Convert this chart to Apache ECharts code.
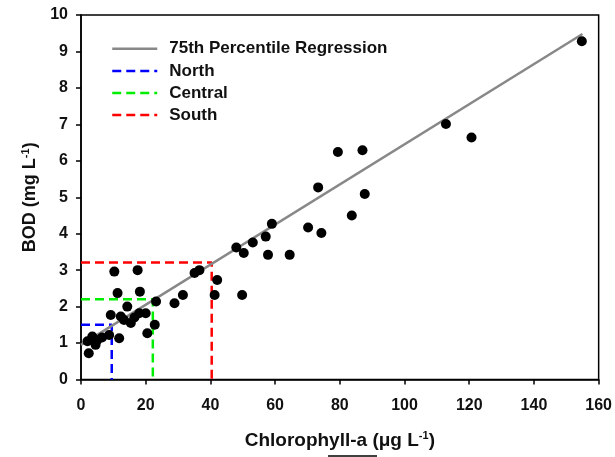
<!DOCTYPE html>
<html>
<head>
<meta charset="utf-8">
<script src="https://cdn.jsdelivr.net/npm/echarts@6/dist/echarts.min.js"></script>
<style>html,body{margin:0;padding:0;background:#fff}#c{width:615px;height:457px}</style>
</head>
<body>
<div id="c"></div>
<script>
// Observations: [Chlorophyll-a, BOD]
var obsChl = [2.4,2.0,3.5,5.0,4.5,6.5,8.7,9.2,10.3,11.3,11.8,12.3,13.3,14.3,15.4,16.5,17.5,18.2,18.0,20.0,20.5,22.8,23.2,28.9,31.5,35.1,36.6,41.3,42.1,48.0,50.3,49.8,53.1,57.1,57.8,59.0,64.5,70.2,73.3,74.3,79.4,83.7,87.0,87.7,112.8,120.7,154.8];
var obsBod = [0.72,1.05,1.18,1.08,0.95,1.15,1.22,1.77,2.96,2.37,1.13,1.73,1.63,2.0,1.55,1.7,3.0,2.41,1.82,1.82,1.27,1.50,2.14,2.09,2.32,2.92,3.0,2.32,2.73,3.62,3.47,2.32,3.76,3.92,3.42,4.27,3.42,4.17,5.27,4.02,6.24,4.50,6.29,5.09,7.01,6.64,9.28];
// 75th percentile regression endpoints
var regX = [0, 155];
var regY = [0.95, 9.48];
// Regional thresholds [chl, bod]
var regionNames = ['North', 'Central', 'South'];
var regionChl = [9.5, 22.2, 40.4];
var regionBod = [1.5, 2.2, 3.21];
var regionColors = ['#0000ff', '#00ee00', '#ff0000'];
var xTicks = [0, 160, 20];
var yTicks = [0, 10, 1];

var scatterData = obsChl.map(function(x, i){ return [x, obsBod[i]]; });
var regData = regX.map(function(x, i){ return [x, regY[i]]; });

var font = '"Liberation Sans", Arial, sans-serif';
var series = [
  {name: '75th Percentile Regression', type: 'line', data: regData, symbol: 'none',
   lineStyle: {color: '#888888', width: 2.5}, itemStyle: {color: '#888888'}, z: 3}
];
regionNames.forEach(function(n, i){
  series.push({name: n, type: 'line', symbol: 'none',
    data: [[0, regionBod[i]], [regionChl[i], regionBod[i]], [regionChl[i], 0]],
    lineStyle: {color: regionColors[i], width: 2.5, type: [9, 5]},
    itemStyle: {color: regionColors[i]}, z: 2});
});
series.push({name: 'obs', type: 'scatter', data: scatterData, symbolSize: 10,
  itemStyle: {color: '#000', opacity: 1}, z: 4});

var supStyle = {fontFamily: font, fontWeight: 'bold', fontSize: 11, color: '#111', verticalAlign: 'top', padding: [0,0,9,0]};

var chart = echarts.init(document.getElementById('c'), null, {renderer: 'canvas'});
chart.setOption({
  animation: false,
  backgroundColor: '#fff',
  textStyle: {fontFamily: font},
  grid: {left: 81, right: 16, top: 15, bottom: 77.5, show: true, borderColor: '#000', borderWidth: 1.5, containLabel: false},
  legend: {
    data: ['75th Percentile Regression', 'North', 'Central', 'South'],
    orient: 'vertical', left: 106, top: 35, itemWidth: 45, itemHeight: 22, itemGap: 4.5,
    itemStyle: {opacity: 0},
    lineStyle: {width: 2.5},
    textStyle: {fontFamily: font, fontWeight: 'bold', fontSize: 17, color: '#111', padding: [0,0,0,7]}
  },
  xAxis: {
    type: 'value', min: xTicks[0], max: xTicks[1], interval: xTicks[2],
    name: 'Chlorophyll-a (μg L{sup|-1})', nameLocation: 'middle', nameGap: 51,
    nameTextStyle: {fontFamily: font, fontWeight: 'bold', fontSize: 19, color: '#111', rich: {sup: supStyle}},
    axisLine: {show: true, lineStyle: {color: '#000', width: 1.5}},
    axisTick: {show: true, inside: false, length: 5, lineStyle: {color: '#000', width: 1.5}},
    axisLabel: {fontFamily: font, fontWeight: 'bold', fontSize: 16, color: '#111', margin: 18},
    splitLine: {show: false}
  },
  yAxis: {
    type: 'value', min: yTicks[0], max: yTicks[1], interval: yTicks[2],
    name: 'BOD (mg L{sup|-1})', nameLocation: 'middle', nameGap: 37, nameRotate: 90,
    nameTextStyle: {fontFamily: font, fontWeight: 'bold', fontSize: 18, color: '#111', rich: {sup: supStyle}},
    axisLine: {show: true, lineStyle: {color: '#000', width: 1.5}},
    axisTick: {show: true, inside: false, length: 5, lineStyle: {color: '#000', width: 1.5}},
    axisLabel: {fontFamily: font, fontWeight: 'bold', fontSize: 16, color: '#111', margin: 13},
    splitLine: {show: false}
  },
  graphic: [{type: 'line', shape: {x1: 328, y1: 456, x2: 377, y2: 456}, style: {stroke: '#000', lineWidth: 1.5}}],
  series: series
});
</script>
</body>
</html>
